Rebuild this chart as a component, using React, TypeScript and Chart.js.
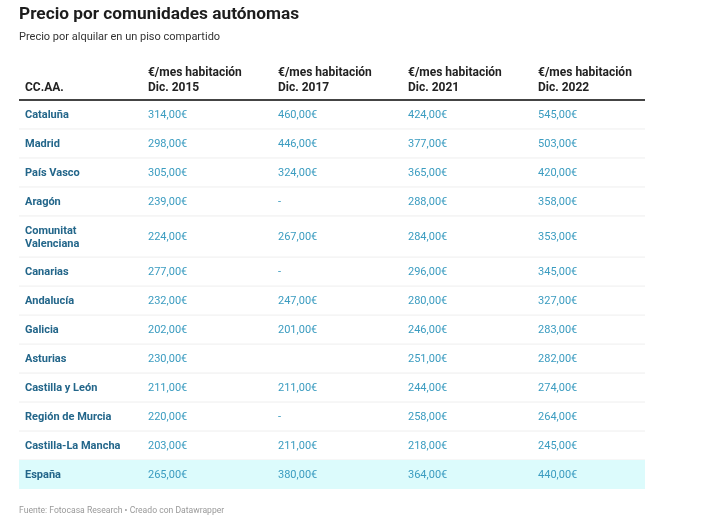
import React, { useEffect, useRef } from "react";
import { Chart, registerables } from "chart.js";

Chart.register(...registerables);

const title = "Precio por comunidades autónomas";
const subtitle = "Precio por alquilar en un piso compartido";
const footer = "Fuente: Fotocasa Research • Creado con Datawrapper";

const headerFirst = "CC.AA.";
const headerColumns = [
  ["€/mes habitación", "Dic. 2015"],
  ["€/mes habitación", "Dic. 2017"],
  ["€/mes habitación", "Dic. 2021"],
  ["€/mes habitación", "Dic. 2022"],
];

const regions = [
  ["Cataluña"],
  ["Madrid"],
  ["País Vasco"],
  ["Aragón"],
  ["Comunitat", "Valenciana"],
  ["Canarias"],
  ["Andalucía"],
  ["Galicia"],
  ["Asturias"],
  ["Castilla y León"],
  ["Región de Murcia"],
  ["Castilla-La Mancha"],
  ["España"],
];

const dic2015 = ["314,00€", "298,00€", "305,00€", "239,00€", "224,00€", "277,00€", "232,00€", "202,00€", "230,00€", "211,00€", "220,00€", "203,00€", "265,00€"];
const dic2017 = ["460,00€", "446,00€", "324,00€", "-", "267,00€", "-", "247,00€", "201,00€", "", "211,00€", "-", "211,00€", "380,00€"];
const dic2021 = ["424,00€", "377,00€", "365,00€", "288,00€", "284,00€", "296,00€", "280,00€", "246,00€", "251,00€", "244,00€", "258,00€", "218,00€", "364,00€"];
const dic2022 = ["545,00€", "503,00€", "420,00€", "358,00€", "353,00€", "345,00€", "327,00€", "283,00€", "282,00€", "274,00€", "264,00€", "245,00€", "440,00€"];

const highlightedRow = "España";

const FONT = "Roboto, 'Noto Sans', Arial, sans-serif";

export default function App() {
  const ref = useRef<HTMLCanvasElement | null>(null);

  useEffect(() => {
    document.body.style.margin = "0";
    const canvas = ref.current;
    if (!canvas) return;

    const columns = [dic2015, dic2017, dic2021, dic2022];
    const rowUnits = regions.map((r) => 1 + 0.42 * (r.length - 1));
    const rowStart: number[] = [];
    let acc = 0;
    rowUnits.forEach((u) => {
      rowStart.push(acc);
      acc += u;
    });
    const totalUnits = acc;
    const colStart = [0, 0.946, 1.946, 2.946, 3.946];
    const colEnd = 4.815;

    const tablePlugin = {
      id: "tablePlugin",
      beforeDraw(chart: any) {
        const ctx = chart.ctx;
        const xs = chart.scales.x;
        const ys = chart.scales.y;
        const left = xs.getPixelForValue(0);
        const right = xs.getPixelForValue(colEnd);
        ctx.save();
        ctx.fillStyle = "#ffffff";
        ctx.fillRect(0, 0, chart.width, chart.height);

        ctx.textBaseline = "alphabetic";
        ctx.textAlign = "left";
        ctx.fillStyle = "#1d1d1d";
        ctx.font = `bold 17.3px ${FONT}`;
        ctx.fillText(title, left, 19);
        ctx.fillStyle = "#333333";
        ctx.font = `11px ${FONT}`;
        ctx.fillText(subtitle, left, 40);

        ctx.fillStyle = "#222222";
        ctx.font = `bold 12px ${FONT}`;
        ctx.textBaseline = "middle";
        const top = ys.getPixelForValue(0);
        ctx.fillText(headerFirst, left + 6, top - 12);
        headerColumns.forEach((lines, i) => {
          const x = xs.getPixelForValue(colStart[i + 1]) + 6;
          lines.forEach((t, j) => {
            ctx.fillText(t, x, top - 27 + j * 15);
          });
        });

        regions.forEach((lines, r) => {
          const y0 = ys.getPixelForValue(rowStart[r]);
          const y1 = ys.getPixelForValue(rowStart[r] + rowUnits[r]);
          const ym = (y0 + y1) / 2 + 1;
          if (lines.join(" ") === highlightedRow) {
            ctx.fillStyle = "#dcfbfc";
            ctx.fillRect(left, y0, right - left, y1 - y0);
          } else {
            ctx.fillStyle = "#eeeeee";
            ctx.fillRect(left, y1 - 0.5, right - left, 1);
          }
          ctx.fillStyle = "#23668a";
          ctx.font = `bold 11px ${FONT}`;
          const lh = 13;
          lines.forEach((t, j) => {
            ctx.fillText(t, left + 6, ym + (j - (lines.length - 1) / 2) * lh);
          });
          ctx.fillStyle = "#3b9cc0";
          ctx.font = `11px ${FONT}`;
          columns.forEach((col, c) => {
            const x = xs.getPixelForValue(colStart[c + 1]) + 6;
            ctx.fillText(col[r], x, ym);
          });
        });

        ctx.fillStyle = "#444444";
        ctx.fillRect(left, top - 1, right - left, 2);

        ctx.textBaseline = "alphabetic";
        ctx.fillStyle = "#999999";
        ctx.font = `8.6px ${FONT}`;
        ctx.fillText(footer, left, 513);
        ctx.restore();
      },
    };

    const chart = new Chart(canvas, {
      type: "scatter",
      data: { datasets: [{ data: [], pointRadius: 0 }] },
      options: {
        responsive: false,
        animation: false,
        events: [],
        layout: { padding: { left: 19, right: 69, top: 100, bottom: 30 } },
        plugins: { legend: { display: false }, tooltip: { enabled: false }, title: { display: false } },
        scales: {
          x: { type: "linear", min: 0, max: colEnd, display: false },
          y: { type: "linear", min: 0, max: totalUnits, reverse: true, display: false },
        },
      },
      plugins: [tablePlugin],
    });
    return () => chart.destroy();
  }, []);

  return (
    <div style={{ width: 714, height: 519 }}>
      <canvas ref={ref} width={714} height={519} style={{ display: "block" }} />
    </div>
  );
}
